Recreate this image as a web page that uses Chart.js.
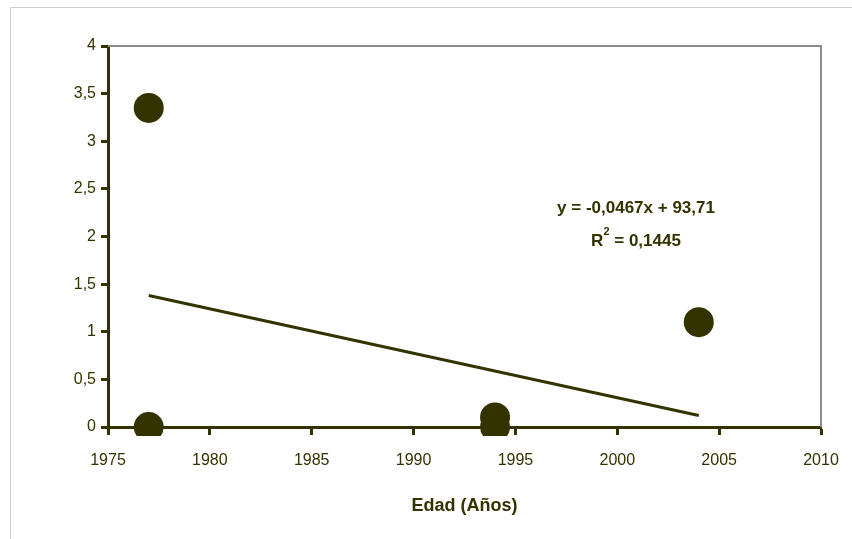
<!DOCTYPE html>
<html>
<head>
<meta charset="utf-8">
<script src="https://cdn.jsdelivr.net/npm/chart.js@4"></script>
<style>
    html, body { margin: 0; padding: 0; background: #fff; }
    #wrap { position: relative; width: 852px; height: 539px; }
</style>
</head>
<body>
<div id="wrap"><canvas id="grafico" width="852" height="539"></canvas></div>
<script>
// datos
const anios = [1977, 1977, 1994, 1994, 2004];
const valores = [3.35, 0, 0.1, 0, 1.1];
// línea de tendencia (extremos)
const tendenciaX = [1977, 2004];
const tendenciaY = [1.38, 0.12];
const ecuacion = 'y = -0,0467x + 93,71';
const r2 = '0,1445';
const ticksX = [1975, 1980, 1985, 1990, 1995, 2000, 2005, 2010];
const tituloX = 'Edad (Años)';

const oliva = '#333300';
const fuente = '"Liberation Sans Narrow", "Liberation Sans", Arial, sans-serif';

Chart.defaults.font.family = fuente;
Chart.defaults.color = oliva;

// marcos grises
const marcos = {
    id: 'marcos',
    beforeDraw(chart) {
        const ctx = chart.ctx;
        ctx.save();
        ctx.strokeStyle = '#cccccc';
        ctx.lineWidth = 1;
        ctx.beginPath();
        ctx.moveTo(10.5, 539);
        ctx.lineTo(10.5, 7.5);
        ctx.lineTo(852, 7.5);
        ctx.stroke();
        ctx.restore();
    },
    beforeDatasetsDraw(chart) {
        const { ctx, chartArea } = chart;
        ctx.save();
        ctx.strokeStyle = '#8c8c8c';
        ctx.lineWidth = 2;
        ctx.beginPath();
        ctx.moveTo(chartArea.left, chartArea.top);
        ctx.lineTo(chartArea.right, chartArea.top);
        ctx.lineTo(chartArea.right, chartArea.bottom);
        ctx.stroke();
        ctx.restore();
    }
};

// ecuación y R²
const anotacion = {
    id: 'anotacion',
    afterDatasetsDraw(chart) {
        const ctx = chart.ctx;
        const cx = 636;
        ctx.save();
        ctx.fillStyle = oliva;
        ctx.textBaseline = 'middle';
        ctx.font = 'bold 17px ' + fuente;
        ctx.textAlign = 'center';
        ctx.fillText(ecuacion, cx, 208);

        const resto = ' = ' + r2;
        const wR = ctx.measureText('R').width;
        const wResto = ctx.measureText(resto).width;
        ctx.font = 'bold 11px ' + fuente;
        const w2 = ctx.measureText('2').width;
        let x = cx - (wR + w2 + wResto) / 2;
        ctx.textAlign = 'left';
        ctx.font = 'bold 17px ' + fuente;
        ctx.fillText('R', x, 241);
        x += wR;
        ctx.font = 'bold 11px ' + fuente;
        ctx.fillText('2', x, 232);
        x += w2;
        ctx.font = 'bold 17px ' + fuente;
        ctx.fillText(resto, x, 241);
        ctx.restore();
    }
};

new Chart(document.getElementById('grafico'), {
    type: 'scatter',
    data: {
        datasets: [
            {
                label: 'Datos',
                data: anios.map((a, i) => ({ x: a, y: valores[i] })),
                backgroundColor: oliva,
                borderWidth: 0,
                pointRadius: 15,
                pointHoverRadius: 15,
                clip: { left: 20, top: 20, right: 20, bottom: 9 }
            },
            {
                type: 'line',
                label: 'Tendencia',
                data: tendenciaX.map((a, i) => ({ x: a, y: tendenciaY[i] })),
                borderColor: oliva,
                borderWidth: 3,
                pointRadius: 0,
                fill: false
            }
        ]
    },
    options: {
        responsive: false,
        animation: false,
        layout: { padding: { top: 46, right: 31, left: 0, bottom: 0 } },
        plugins: {
            legend: { display: false },
            tooltip: { enabled: false }
        },
        scales: {
            x: {
                type: 'linear',
                min: 1975,
                max: 2010,
                afterBuildTicks: (scale) => { scale.ticks = ticksX.map(v => ({ value: v })); },
                afterFit: (scale) => {
                    scale.height = 112;
                    scale.paddingLeft = 0;
                    scale.paddingRight = 0;
                },
                border: { color: oliva, width: 3 },
                grid: { drawOnChartArea: false, drawTicks: true, tickLength: 8, tickWidth: 3, tickColor: oliva },
                ticks: {
                    padding: 16,
                    font: { size: 16 },
                    color: oliva,
                    maxRotation: 0,
                    callback: (v) => String(v)
                },
                title: {
                    display: true,
                    text: tituloX,
                    color: oliva,
                    font: { size: 18, weight: 'bold' },
                    padding: { top: 0, bottom: 22 }
                }
            },
            y: {
                min: 0,
                max: 4,
                afterFit: (scale) => {
                    scale.width = 108;
                    scale.paddingTop = 0;
                    scale.paddingBottom = 0;
                },
                border: { color: oliva, width: 3 },
                grid: { drawOnChartArea: false, drawTicks: true, tickLength: 7, tickWidth: 3, tickColor: oliva },
                ticks: {
                    stepSize: 0.5,
                    padding: 5,
                    font: { size: 16 },
                    color: oliva,
                    callback: (v) => String(v).replace('.', ',')
                }
            }
        }
    },
    plugins: [marcos, anotacion]
});
</script>
</body>
</html>
